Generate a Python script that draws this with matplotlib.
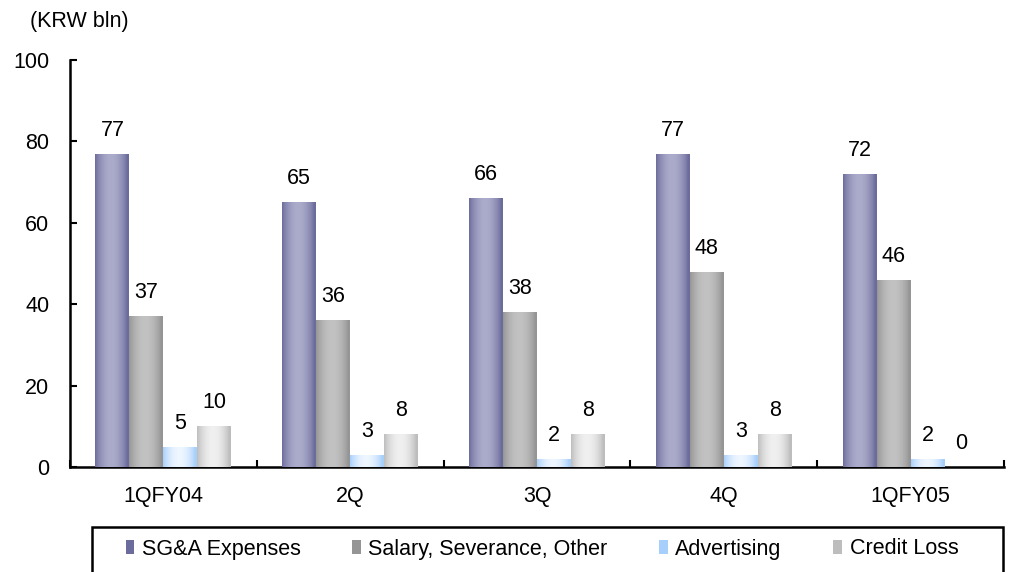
import numpy as np
import matplotlib
matplotlib.use("Agg")
import matplotlib.pyplot as plt
from matplotlib.patches import Rectangle
from matplotlib.colors import LinearSegmentedColormap

plt.rcParams['font.family'] = ['Liberation Sans', 'DejaVu Sans']

quarters = ["1QFY04", "2Q", "3Q", "4Q", "1QFY05"]
series_names = ["SG&A Expenses", "Salary, Severance, Other", "Advertising", "Credit Loss"]
sga = [77, 65, 66, 77, 72]
salary = [37, 36, 38, 48, 46]
advertising = [5, 3, 2, 3, 2]
credit_loss = [10, 8, 8, 8, 0]

# edge colour, centre colour for the horizontal gradient
grads = [("#6c6c9c", "#ababcb"),
         ("#959595", "#c2c2c2"),
         ("#a6cffb", "#eef6ff"),
         ("#bdbdbd", "#f0f0f0")]

FS = 15.5

fig = plt.figure(figsize=(10.13, 5.72), dpi=100)
ax = fig.add_axes([70 / 1013, 1 - 467 / 572, 934 / 1013, 407 / 572])

x = np.arange(len(quarters))
w = 0.182
all_vals = [sga, salary, advertising, credit_loss]

# gradient profile: dark at edges, light near centre
t = np.linspace(0, 1, 64)
prof = np.sin(np.pi * np.clip(t * 1.05, 0, 1)) ** 0.8
prof = prof.reshape(1, -1)

for i, vals in enumerate(all_vals):
    pos = x + (i - 1.5) * w
    bars = ax.bar(pos, vals, width=w, color=grads[i][0], linewidth=0, zorder=2,
                  label=series_names[i])
    cmap = LinearSegmentedColormap.from_list("g%d" % i, grads[i])
    for b, v in zip(bars, vals):
        if v > 0:
            im = ax.imshow(prof, cmap=cmap, vmin=0, vmax=1, aspect='auto',
                           extent=[b.get_x(), b.get_x() + b.get_width(), 0, v],
                           zorder=3, interpolation='bicubic')
            im.set_clip_path(b)
        ax.text(b.get_x() + b.get_width() / 2, v + 3.2, str(v), ha='center',
                va='bottom', fontsize=FS)

ax.set_xlim(-0.5, len(quarters) - 0.5)
ax.set_ylim(0, 100)
ax.set_yticks(np.arange(0, 101, 20))
ax.set_xticks(x)
ax.set_xticklabels(quarters)
ax.set_xticks(np.arange(-0.5, len(quarters), 1), minor=True)
ax.tick_params(axis='x', which='major', length=0, pad=14, labelsize=FS)
ax.tick_params(axis='x', which='minor', direction='in', length=5, width=1.5)
ax.tick_params(axis='y', direction='in', length=5, width=1.5, pad=15, labelsize=FS)
for s in ['top', 'right']:
    ax.spines[s].set_visible(False)
for s in ['left', 'bottom']:
    ax.spines[s].set_linewidth(1.8)

fig.text(30 / 1013, 1 - 21 / 572, "(KRW bln)", fontsize=FS, va='center', ha='left')

# legend box
fig.patches.append(Rectangle((92 / 1013, -0.05), 911 / 1013, 0.05 + 45 / 572,
                             transform=fig.transFigure, fill=False,
                             edgecolor='black', linewidth=1.8))
handles = [Rectangle((0, 0), 1, 1, facecolor=g[0], edgecolor='none') for g in grads]
fig.legend(handles, series_names, loc='center', bbox_to_anchor=(0.535, 1 - 549 / 572),
           ncol=4, frameon=False, fontsize=FS, handlelength=0.4, handleheight=0.65,
           handletextpad=0.35, columnspacing=2.4)

fig.savefig("out.png", dpi=100)
